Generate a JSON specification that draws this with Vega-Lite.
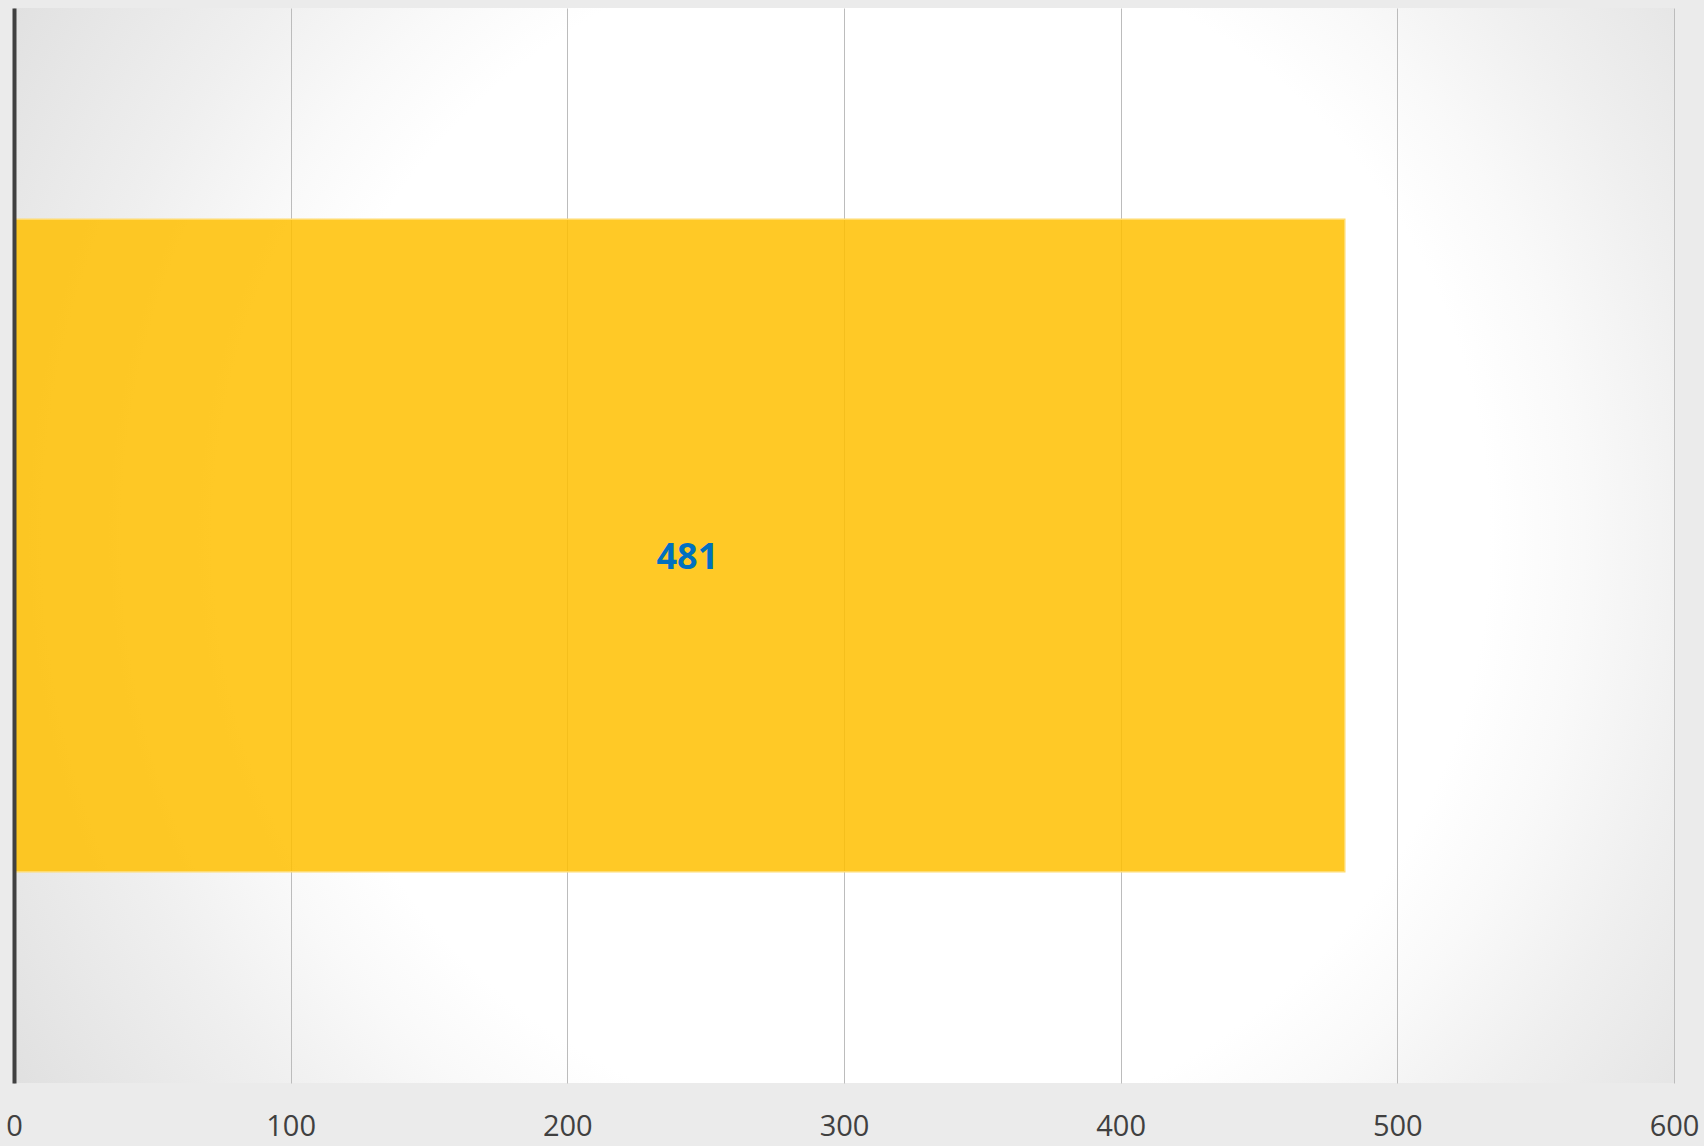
{
  "$schema": "https://vega.github.io/schema/vega-lite/v6.json",
  "width": 1660,
  "height": 1075,
  "autosize": {"type": "none"},
  "padding": {"left": 14, "top": 8, "right": 30, "bottom": 63},
  "background": "#ebebeb",
  "config": {
    "view": {
      "stroke": null,
      "fill": {
        "gradient": "radial",
        "x1": 0.528, "y1": 0.495, "r1": 0,
        "x2": 0.528, "y2": 0.495, "r2": 0.633,
        "stops": [
          {"offset": 0, "color": "#ffffff"},
          {"offset": 0.57, "color": "#ffffff"},
          {"offset": 0.66, "color": "#f9f9f9"},
          {"offset": 0.78, "color": "#efefef"},
          {"offset": 1, "color": "#dfdfdf"}
        ]
      }
    },
    "font": "Open Sans"
  },
  "data": {"values": [{"category": "A", "value": 481, "half": 240.5}]},
  "encoding": {
    "y": {
      "field": "category",
      "type": "nominal",
      "scale": {"paddingOuter": 0.324, "paddingInner": 0},
      "axis": {
        "labels": false,
        "ticks": false,
        "title": null,
        "domainColor": "#404040",
        "domainWidth": 4,
        "zindex": 2
      }
    }
  },
  "layer": [
    {
      "mark": {
        "type": "bar",
        "fill": "#ffc000",
        "fillOpacity": 0.85,
        "stroke": "#ffdb6e",
        "strokeWidth": 1.5
      },
      "encoding": {
        "x": {
          "field": "value",
          "type": "quantitative",
          "scale": {"domain": [0, 600], "nice": false, "zero": true},
          "axis": {
            "values": [0, 100, 200, 300, 400, 500, 600],
            "title": null,
            "domain": false,
            "ticks": false,
            "grid": true,
            "gridColor": "#bcbcbc",
            "gridWidth": 1,
            "labelFont": "Open Sans",
            "labelFontSize": 29,
            "labelColor": "#404040",
            "labelPadding": 29,
            "labelFlush": false
          }
        }
      }
    },
    {
      "mark": {
        "type": "text",
        "font": "Open Sans",
        "fontSize": 36,
        "fontWeight": "bold",
        "color": "#0070c0",
        "dx": 8,
        "dy": 12,
        "baseline": "middle",
        "align": "center"
      },
      "encoding": {
        "x": {"field": "half", "type": "quantitative"},
        "text": {"field": "value", "type": "quantitative"}
      }
    }
  ]
}
